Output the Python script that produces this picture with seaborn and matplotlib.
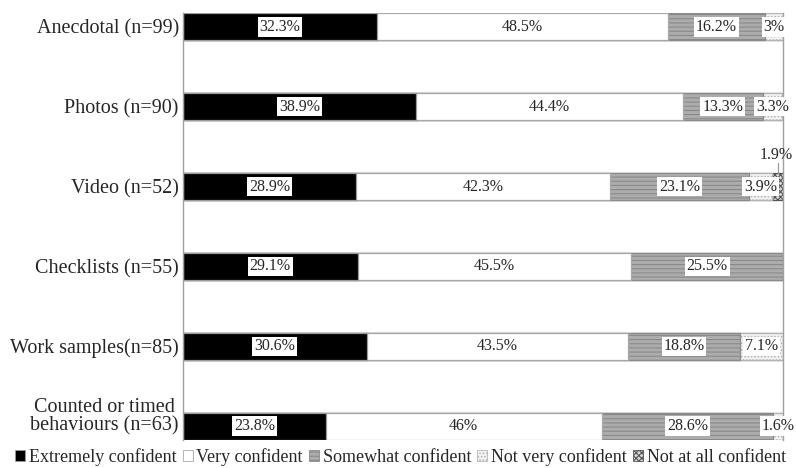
import numpy as np
import pandas as pd
import matplotlib
matplotlib.use("Agg")
import matplotlib.pyplot as plt
from matplotlib.patches import Patch
import seaborn as sns

sns.set_theme(style="white")
plt.rcParams["font.family"] = ["Liberation Serif", "DejaVu Serif"]
plt.rcParams["hatch.linewidth"] = 0.8

categories = ["Anecdotal (n=99)", "Photos (n=90)", "Video (n=52)", "Checklists (n=55)",
              "Work samples(n=85)", "Counted or timed\nbehaviours (n=63)"]
levels = ["Extremely confident", "Very confident", "Somewhat confident",
          "Not very confident", "Not at all confident"]
extremely = [32.3, 38.9, 28.9, 29.1, 30.6, 23.8]
very = [48.5, 44.4, 42.3, 45.5, 43.5, 46.0]
somewhat = [16.2, 13.3, 23.1, 25.5, 18.8, 28.6]
not_very = [3.0, 3.3, 3.9, 0.0, 7.1, 1.6]
not_at_all = [0.0, 0.0, 1.9, 0.0, 0.0, 0.0]
value_labels = [
    ["32.3%", "48.5%", "16.2%", "3%", ""],
    ["38.9%", "44.4%", "13.3%", "3.3%", ""],
    ["28.9%", "42.3%", "23.1%", "3.9%", "1.9%"],
    ["29.1%", "45.5%", "25.5%", "", ""],
    ["30.6%", "43.5%", "18.8%", "7.1%", ""],
    ["23.8%", "46%", "28.6%", "1.6%", ""],
]

series = [extremely, very, somewhat, not_very, not_at_all]
styles = [
    dict(color="#000000", edgecolor="#9a9a9a", hatch=None),
    dict(color="#ffffff", edgecolor="#a8a8a8", hatch=None),
    dict(color="#acacac", edgecolor="#8a8a8a", hatch="----"),
    dict(color="#f4f4f4", edgecolor="#b4b4b4", hatch="....."),
    dict(color="#d8d8d8", edgecolor="#555555", hatch="xxxxxx"),
]

df = pd.DataFrame({"category": categories})
for name, vals in zip(levels, series):
    df[name] = vals
cum = df[levels].cumsum(axis=1)

fig = plt.figure(figsize=(7.96, 4.68), dpi=100)
ax = fig.add_axes([183 / 796, 1 - 440 / 468, 600 / 796, 427 / 468])

bar_h = 0.34
# stacked bars: draw running totals from the widest layer down so each
# narrower layer covers the left part of the previous one
for i in reversed(range(len(levels))):
    st = styles[i]
    kw = dict(hatch=st["hatch"]) if st["hatch"] else {}
    sns.barplot(data=df.assign(total=cum[levels[i]]), x="total", y="category",
                orient="h", color=st["color"], saturation=1, width=bar_h,
                edgecolor=st["edgecolor"], linewidth=0.9, errorbar=None,
                ax=ax, **kw)

ax.set_xlim(0, 100)
ax.set_ylim(5 + bar_h / 2, -bar_h / 2)
ax.set_xlabel("")
ax.set_ylabel("")
ax.set_xticks([])
ax.set_yticks([])
for s in ["top", "bottom"]:
    ax.spines[s].set_visible(False)
for s in ["left", "right"]:
    ax.spines[s].set_visible(True)
    ax.spines[s].set_color("#a0a0a0")
    ax.spines[s].set_linewidth(1.0)

# category names to the left of the bars
for r, name in enumerate(categories):
    dy = 7 if "\n" in name else -1.5
    ax.annotate(name, xy=(0, r), xycoords=("axes fraction", "data"),
                xytext=(-3, dy), textcoords="offset points", ha="right",
                va="center", fontsize=14.5, multialignment="center",
                linespacing=0.95)

box = dict(boxstyle="square,pad=0.12", fc="white", ec="none")
for r in range(len(categories)):
    left = 0.0
    for i, vals in enumerate(series):
        v = vals[r]
        txt = value_labels[r][i]
        if txt:
            cx = left + v / 2
            if v < 2.5 and i == 4:
                ax.text(cx - 0.3, r - 0.39, txt, ha="center", va="center",
                        fontsize=11.5, clip_on=False)
                ax.plot([cx, cx], [r - 0.29, r - bar_h / 2], color="#999999",
                        lw=0.9, clip_on=False)
            else:
                ax.text(cx, r, txt, ha="center", va="center", fontsize=11.5,
                        bbox=box, clip_on=False)
        left += v

handles = [Patch(facecolor=st["color"], edgecolor=st["edgecolor"],
                 hatch=st["hatch"], linewidth=0.6) for st in styles]
fig.legend(handles, levels, loc="center", bbox_to_anchor=(0.503, 1 - 457 / 468),
           ncol=5, frameon=False, fontsize=13, handlelength=0.55,
           handleheight=0.55, handletextpad=0.2, columnspacing=0.35,
           borderaxespad=0, borderpad=0)

fig.savefig("out.png", dpi=100, facecolor="white")
